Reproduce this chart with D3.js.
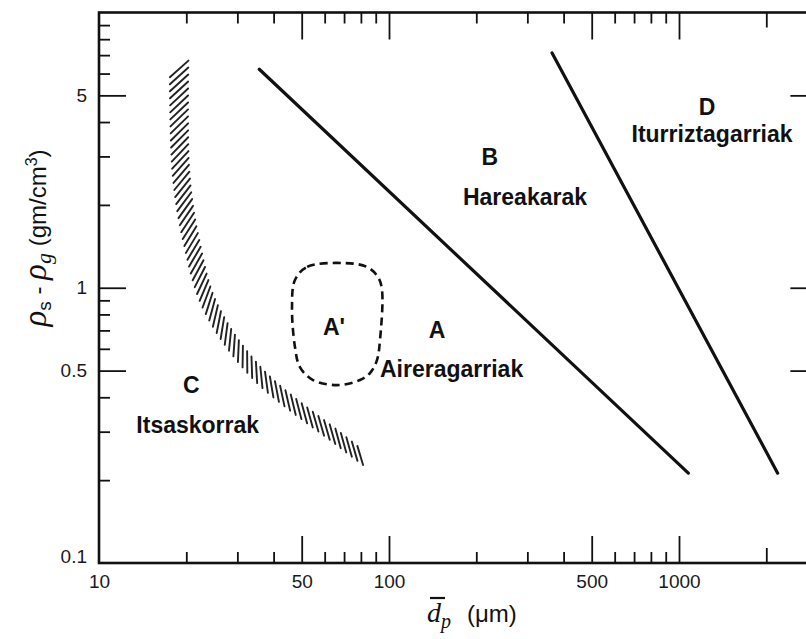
<!DOCTYPE html>
<html>
<head>
<meta charset="utf-8">
<script src="https://cdn.jsdelivr.net/npm/d3@7"></script>
<style>
  html, body { margin: 0; padding: 0; background: #fff; }
  svg { display: block; }
  .tick text { font-family: "Liberation Sans", Arial, sans-serif; font-size: 19px; fill: #1a1a1a; }
  .lbl { font-family: "Liberation Sans", Arial, sans-serif; font-weight: bold; font-size: 23px; fill: #111; }
</style>
</head>
<body>
<svg id="chart" width="806" height="639"></svg>
<script>
// Particle size (µm) and density difference (g/cm3) axes, log-log
const xTicksMajor = [50, 100, 500, 1000];
const xTicksMedium = [2000];
const xTicksMinor = [20, 30, 40, 60, 70, 80, 90, 200, 300, 400, 600, 700, 800, 900];
const xTickLabels = [10, 50, 100, 500, 1000];

const yTicksMajor = [0.5, 1, 5];
const yTicksMinor = [0.2, 0.3, 0.4, 0.6, 0.7, 0.8, 0.9, 2, 3, 4, 6, 7, 8, 9];
const yTickLabels = [0.1, 0.5, 1, 5];

// A/B boundary and B/D boundary: [dp, rho_s - rho_g]
const boundaryAB = [[35.7, 6.22], [1077, 0.212]];
const boundaryBD = [[365, 7.13], [2189, 0.212]];

// C/A transition band (centre line)
const bandCA = [[18.9, 6.45], [19.2, 2.61], [20.8, 1.49], [24.3, 0.851],
                [35.1, 0.490], [67.8, 0.280], [82.0, 0.240]];

// A' region outline (closed)
const regionAprime = [[47.4, 1.067], [52.2, 1.190], [69.4, 1.230], [84.0, 1.190],
                      [91.6, 1.094], [94.6, 0.981], [93.1, 0.646], [90.9, 0.546],
                      [86.0, 0.490], [79.4, 0.462], [66.2, 0.443], [54.7, 0.462],
                      [49.3, 0.515], [47.4, 0.609], [46.3, 0.851]];

// Group labels: [text, dp, rho, anchor]
const groupLabels = [
  ["B", 222.8, 2.79, "middle"],
  ["Hareakarak", 294.4, 2.0, "middle"],
  ["D", 1249, 4.24, "middle"],
  ["Iturriztagarriak", 1300, 3.38, "middle"],
  ["A'", 64.6, 0.674, "middle"],
  ["A", 146.4, 0.657, "middle"],
  ["Aireragarriak", 93.1, 0.474, "start"],
  ["C", 20.8, 0.415, "middle"],
  ["Itsaskorrak", 21.9, 0.297, "middle"]
];

const svg = d3.select("#chart");
svg.append("rect").attr("width", 806).attr("height", 639).attr("fill", "#fff");

const x = d3.scaleLog().domain([10, 3000]).range([99, 99 + 290 * Math.log10(300)]);
const y = d3.scaleLog().domain([0.1, 10]).range([563, 12.5]);

const LONG = 27, MED = 15, SHORT = 11;
const xLen = v => xTicksMajor.includes(v) ? LONG : (xTicksMedium.includes(v) ? MED : SHORT);
const yLen = v => yTicksMajor.includes(v) ? LONG : SHORT;
const xAll = xTicksMajor.concat(xTicksMedium, xTicksMinor);
const yAll = yTicksMajor.concat(yTicksMinor);

// frame
const [x0, x1] = x.range(), [y0, y1] = y.range();
svg.append("rect").attr("x", x0).attr("y", y1).attr("width", x1 - x0).attr("height", y0 - y1)
  .attr("fill", "none").attr("stroke", "#111").attr("stroke-width", 2.6);

function styleTicks(g, lenFn, dir, axis) {
  g.select(".domain").remove();
  g.selectAll(".tick line").attr("stroke", "#111").attr("stroke-width", 1.8)
    .each(function(d) { d3.select(this).attr(axis + "2", lenFn(d) * dir); });
}

// bottom ticks (inward) and labels
svg.append("g").attr("transform", `translate(0,${y0})`)
  .call(d3.axisBottom(x).tickValues(xAll).tickSize(0).tickFormat(""))
  .call(g => styleTicks(g, xLen, -1, "y"));
svg.append("g").attr("transform", `translate(0,${y0})`)
  .call(d3.axisBottom(x).tickValues(xTickLabels).tickSize(0).tickPadding(9).tickFormat(d3.format("d")))
  .call(g => { g.select(".domain").remove(); g.selectAll(".tick text").attr("dy", "0.85em"); });

// top ticks
svg.append("g").attr("transform", `translate(0,${y1})`)
  .call(d3.axisTop(x).tickValues(xAll).tickSize(0).tickFormat(""))
  .call(g => styleTicks(g, xLen, 1, "y"));

// left ticks and labels
svg.append("g").attr("transform", `translate(${x0},0)`)
  .call(d3.axisLeft(y).tickValues(yAll).tickSize(0).tickFormat(""))
  .call(g => styleTicks(g, yLen, 1, "x"));
svg.append("g").attr("transform", `translate(${x0},0)`)
  .call(d3.axisLeft(y).tickValues(yTickLabels).tickSize(0).tickPadding(12).tickFormat(d => String(d)))
  .call(g => { g.select(".domain").remove();
               g.selectAll(".tick text").attr("dy", d => d === 0.1 ? "-0.05em" : "0.32em"); });

// right ticks
svg.append("g").attr("transform", `translate(${x1},0)`)
  .call(d3.axisRight(y).tickValues(yAll).tickSize(0).tickFormat(""))
  .call(g => styleTicks(g, yLen, -1, "x"));

// boundaries
const straight = d3.line().x(d => x(d[0])).y(d => y(d[1]));
[boundaryAB, boundaryBD].forEach(b => {
  svg.append("path").attr("d", straight(b)).attr("fill", "none")
    .attr("stroke", "#111").attr("stroke-width", 3.2).attr("stroke-linecap", "round");
});

// hatched C/A band: short strokes slanted against the local direction of the curve
const bandPath = svg.append("path")
  .attr("d", d3.line().x(d => x(d[0])).y(d => y(d[1])).curve(d3.curveCatmullRom.alpha(0.5))(bandCA))
  .attr("fill", "none").attr("stroke", "none");
const node = bandPath.node();
const L = node.getTotalLength();
const hatch = svg.append("g").attr("stroke", "#222").attr("stroke-width", 1.9).attr("stroke-linecap", "round");
for (let s = 4; s <= L - 3; s += 7) {
  const f = s / L;
  const p = node.getPointAtLength(s);
  const pa = node.getPointAtLength(Math.max(0, s - 3)), pb = node.getPointAtLength(Math.min(L, s + 3));
  const tang = Math.atan2(pb.y - pa.y, pb.x - pa.x);
  const ang = tang + (48 - 12 * f) * Math.PI / 180;
  const half = (25 - 5 * f) / 2;
  hatch.append("line")
    .attr("x1", p.x - half * Math.cos(ang)).attr("y1", p.y - half * Math.sin(ang))
    .attr("x2", p.x + half * Math.cos(ang)).attr("y2", p.y + half * Math.sin(ang));
}

// A' region, dashed
svg.append("path")
  .attr("d", d3.line().x(d => x(d[0])).y(d => y(d[1])).curve(d3.curveCatmullRomClosed.alpha(0.5))(regionAprime))
  .attr("fill", "none").attr("stroke", "#111").attr("stroke-width", 2.6)
  .attr("stroke-dasharray", "8,5");

// group labels
svg.selectAll("text.lbl").data(groupLabels).enter().append("text")
  .attr("class", "lbl")
  .attr("x", d => x(d[1])).attr("y", d => y(d[2]))
  .attr("text-anchor", d => d[3])
  .text(d => d[0]);

// x axis title: mean particle diameter
const xt = svg.append("text").attr("x", 427).attr("y", 622)
  .attr("font-family", "'Liberation Serif', 'DejaVu Serif', serif").attr("fill", "#111");
xt.append("tspan").attr("font-style", "italic").attr("font-size", 28).text("d");
xt.append("tspan").attr("font-style", "italic").attr("font-size", 20).attr("dy", 6).text("p");
xt.append("tspan").attr("dy", -6).attr("dx", 16)
  .attr("font-family", "'Liberation Sans', Arial, sans-serif").attr("font-size", 24).text("(μm)");
svg.append("line").attr("x1", 430).attr("x2", 445).attr("y1", 598).attr("y2", 598)
  .attr("stroke", "#111").attr("stroke-width", 2.2);

// y axis title: density difference
const yt = svg.append("text").attr("transform", "translate(46,238) rotate(-90)")
  .attr("text-anchor", "middle").attr("fill", "#111")
  .attr("font-family", "'Liberation Sans', Arial, sans-serif").attr("font-size", 24);
yt.append("tspan").attr("font-family", "'Liberation Serif', serif").attr("font-style", "italic").attr("font-size", 33).text("ρ");
yt.append("tspan").attr("font-size", 19).attr("dy", 5).text("s");
yt.append("tspan").attr("dy", -5).text(" - ");
yt.append("tspan").attr("font-family", "'Liberation Serif', serif").attr("font-style", "italic").attr("font-size", 33).text("ρ");
yt.append("tspan").attr("font-family", "'Liberation Serif', serif").attr("font-style", "italic").attr("font-size", 22).attr("dy", 5).text("g");
yt.append("tspan").attr("dy", -5).text("  (gm/cm");
yt.append("tspan").attr("font-size", 16).attr("dy", -9).text("3");
yt.append("tspan").attr("dy", 9).text(")");
</script>
</body>
</html>
